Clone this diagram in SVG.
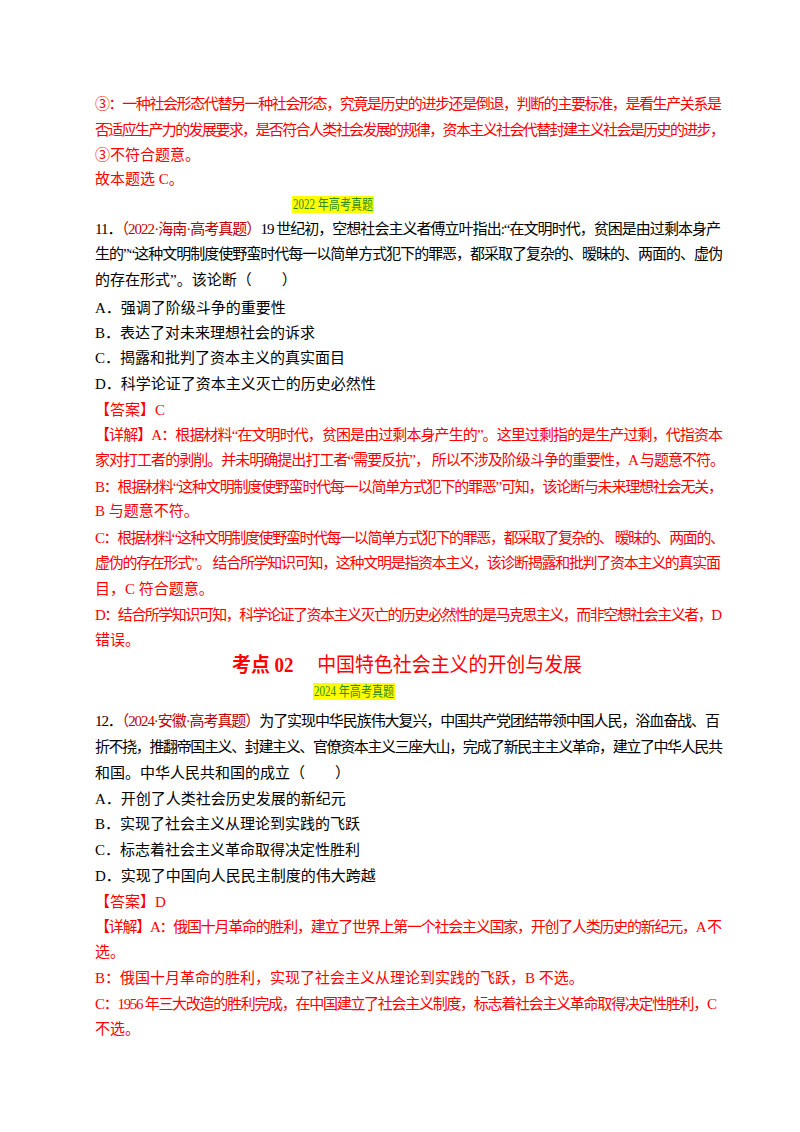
<svg xmlns="http://www.w3.org/2000/svg" width="800" height="1132" viewBox="0 0 800 1132">
<style>
text{font-family:"Liberation Serif","Noto Sans CJK SC",serif;font-size:15px;fill:#000}
.r{fill:#ff0000}
.s{fill:#c00000}
.h{fill:#2e8b20;font-size:14px}
.t{fill:#ff0000;font-size:20px}
</style>
<rect width="800" height="1132" fill="#fff"/>
<text class="r" x="95" y="109" textLength="627" lengthAdjust="spacing">③：一种社会形态代替另一种社会形态，究竟是历史的进步还是倒退，判断的主要标准，是看生产关系是</text>
<text class="r" x="95" y="135" textLength="630" lengthAdjust="spacing">否适应生产力的发展要求，是否符合人类社会发展的规律，资本主义社会代替封建主义社会是历史的进步，</text>
<text class="r" x="95" y="160">③不符合题意。</text>
<text class="r" x="95" y="184">故本题选 C。</text>
<rect x="292" y="196" width="82" height="17" fill="#ffff00"/>
<text class="h" x="293" y="209" textLength="80" lengthAdjust="spacingAndGlyphs">2022 年高考真题</text>
<text x="95" y="234" textLength="626" lengthAdjust="spacing">11．<tspan class="s">（2022·海南·高考真题）</tspan>19 世纪初，空想社会主义者傅立叶指出:“在文明时代，贫困是由过剩本身产</text>
<text x="95" y="259" textLength="628" lengthAdjust="spacing">生的”“这种文明制度使野蛮时代每一以简单方式犯下的罪恶，都采取了复杂的、暧昧的、两面的、虚伪</text>
<text x="95" y="285">的存在形式”。该论断（　　）</text>
<text x="95" y="313">A．强调了阶级斗争的重要性</text>
<text x="95" y="338">B．表达了对未来理想社会的诉求</text>
<text x="95" y="363">C．揭露和批判了资本主义的真实面目</text>
<text x="95" y="389">D．科学论证了资本主义灭亡的历史必然性</text>
<text class="r" x="95" y="415">【答案】C</text>
<text class="r" x="95" y="440" textLength="628" lengthAdjust="spacing">【详解】A：根据材料“在文明时代，贫困是由过剩本身产生的”。这里过剩指的是生产过剩，代指资本</text>
<text class="r" x="95" y="465" textLength="630" lengthAdjust="spacing">家对打工者的剥削。并未明确提出打工者“需要反抗”，  所以不涉及阶级斗争的重要性，A 与题意不符。</text>
<text class="r" x="95" y="492" textLength="628" lengthAdjust="spacing">B：根据材料“这种文明制度使野蛮时代每一以简单方式犯下的罪恶”可知，该论断与未来理想社会无关，</text>
<text class="r" x="95" y="516">B 与题意不符。</text>
<text class="r" x="95" y="543" textLength="630" lengthAdjust="spacing">C：根据材料“这种文明制度使野蛮时代每一以简单方式犯下的罪恶，都采取了复杂的、 暧昧的、两面的、</text>
<text class="r" x="95" y="568" textLength="626" lengthAdjust="spacing">虚伪的存在形式”。 结合所学知识可知，这种文明是指资本主义，该诊断揭露和批判了资本主义的真实面</text>
<text class="r" x="95" y="594">目，C 符合题意。</text>
<text class="r" x="95" y="620" textLength="627" lengthAdjust="spacing">D：结合所学知识可知，科学论证了资本主义灭亡的历史必然性的是马克思主义，而非空想社会主义者，D</text>
<text class="r" x="95" y="645">错误。</text>
<text class="t" x="232" y="672" textLength="350" lengthAdjust="spacingAndGlyphs"><tspan font-weight="bold">考点 02</tspan>　 中国特色社会主义的开创与发展</text>
<rect x="313" y="683" width="82" height="17" fill="#ffff00"/>
<text class="h" x="314" y="696" textLength="80" lengthAdjust="spacingAndGlyphs">2024 年高考真题</text>
<text x="95" y="726" textLength="625" lengthAdjust="spacing">12．<tspan class="s">（2024·安徽·高考真题）</tspan>为了实现中华民族伟大复兴，中国共产党团结带领中国人民，浴血奋战、百</text>
<text x="95" y="752" textLength="628" lengthAdjust="spacing">折不挠，推翻帝国主义、封建主义、官僚资本主义三座大山，完成了新民主主义革命，建立了中华人民共</text>
<text x="95" y="778">和国。中华人民共和国的成立（　　）</text>
<text x="95" y="804">A．开创了人类社会历史发展的新纪元</text>
<text x="95" y="829">B．实现了社会主义从理论到实践的飞跃</text>
<text x="95" y="855">C．标志着社会主义革命取得决定性胜利</text>
<text x="95" y="881">D．实现了中国向人民民主制度的伟大跨越</text>
<text class="r" x="95" y="907">【答案】D</text>
<text class="r" x="95" y="932" textLength="627" lengthAdjust="spacing">【详解】A：俄国十月革命的胜利，建立了世界上第一个社会主义国家，开创了人类历史的新纪元，A 不</text>
<text class="r" x="95" y="957">选。</text>
<text class="r" x="95" y="983">B：俄国十月革命的胜利，实现了社会主义从理论到实践的飞跃，B 不选。</text>
<text class="r" x="95" y="1009" textLength="622" lengthAdjust="spacing">C：1956 年三大改造的胜利完成，在中国建立了社会主义制度，标志着社会主义革命取得决定性胜利，C</text>
<text class="r" x="95" y="1034">不选。</text>
</svg>
